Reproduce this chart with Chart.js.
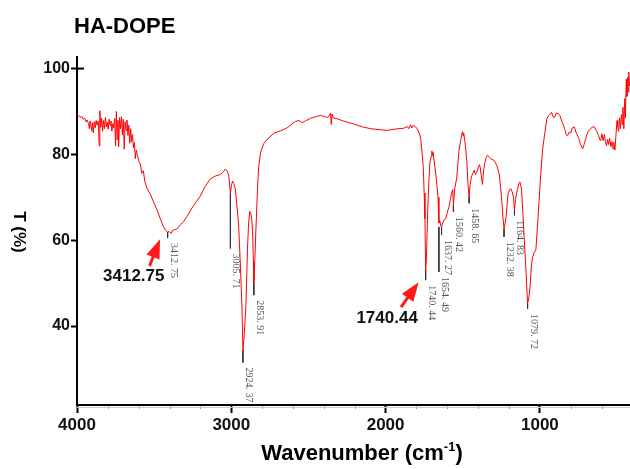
<!DOCTYPE html>
<html>
<head>
<meta charset="utf-8">
<script src="https://cdn.jsdelivr.net/npm/chart.js@4/dist/chart.umd.min.js"></script>
<style>
  body { margin: 0; background: #fff; }
  #wrap { width: 630px; height: 469px; position: relative; }
</style>
</head>
<body>
<div id="wrap"><canvas id="ftir"></canvas></div>
<script>
// FTIR spectrum of HA-DOPE
const wavenumbers = [
  4000, 3990, 3980, 3970, 3960, 3950, 3940, 3935, 3925, 3920, 3915, 3905, 3900, 3895, 3888, 3882, 3876, 3870, 3862, 3856,
  3852, 3846, 3840, 3834, 3828, 3822, 3816, 3810, 3804, 3798, 3792, 3786, 3780, 3774, 3768, 3762, 3756, 3750, 3745, 3740,
  3735, 3730, 3724, 3718, 3712, 3706, 3700, 3694, 3688, 3682, 3676, 3670, 3664, 3658, 3652, 3646, 3640, 3634, 3628, 3622,
  3616, 3610, 3600, 3590, 3580, 3570, 3560, 3545, 3526, 3500, 3481, 3460, 3442, 3425, 3412.75, 3400, 3390, 3380, 3353, 3330,
  3310, 3288, 3250, 3201, 3170, 3136, 3100, 3071, 3050, 3039, 3028, 3017, 3010, 3005.71, 2998, 2991, 2984, 2974, 2962, 2953,
  2942, 2931, 2924.37, 2916, 2905, 2895, 2888, 2880, 2874, 2868, 2862, 2857, 2853.91, 2848, 2840, 2830, 2823, 2810, 2790, 2760,
  2725, 2680, 2638, 2600, 2584, 2560, 2541, 2520, 2487, 2450, 2422, 2395, 2379, 2365, 2357, 2352, 2347, 2340, 2314, 2260,
  2206, 2150, 2097, 2050, 1989, 1940, 1881, 1860, 1850, 1838, 1830, 1820, 1805, 1794, 1780, 1773, 1765, 1756, 1750, 1745,
  1740.44, 1735, 1728, 1720, 1713, 1705, 1700, 1697, 1693, 1688, 1682, 1675, 1668, 1660, 1654.49, 1648, 1642, 1637.27, 1630, 1620,
  1610, 1600, 1589, 1580, 1571, 1565, 1560.42, 1552, 1539, 1530, 1524, 1512, 1502, 1497, 1494, 1487, 1480, 1474, 1466, 1458.65,
  1452, 1444, 1436, 1426, 1418, 1410, 1400, 1392, 1387, 1380, 1372, 1364, 1357, 1348, 1340, 1330, 1318, 1297, 1280, 1264,
  1255, 1247, 1240, 1232.38, 1225, 1219, 1212, 1206, 1196, 1188, 1180, 1171, 1164.83, 1158, 1150, 1145, 1137, 1130, 1124, 1118,
  1110, 1102, 1094, 1087, 1079.72, 1072, 1063, 1055, 1048, 1036, 1026, 1016, 1005, 995, 983, 970, 955, 945, 935, 924,
  915, 905, 895, 881, 870, 855, 840, 828, 820, 810, 800, 790, 777, 765, 750, 738, 723, 712, 700, 690,
  675, 660, 647, 635, 620, 610, 604, 598, 590, 582, 575, 568, 561, 555, 548, 540, 533, 526, 520, 514,
  508, 500, 496, 490, 484, 478, 472, 466, 462, 456, 450, 446, 440, 436, 432, 428, 424, 420, 416
];
const transmittance = [
  89.5, 89.0, 88.6, 88.9, 88.2, 88.4, 87.6, 88.0, 87.2, 86.0, 87.8, 85.5, 87.4, 85.0, 87.6, 86.2, 87.9, 86.8, 87.8, 82.0,
  90.2, 86.3, 88.4, 85.4, 87.9, 86.0, 88.6, 86.4, 87.5, 85.9, 88.2, 86.8, 87.8, 85.4, 87.2, 86.2, 88.4, 82.0, 90.0, 83.5,
  88.0, 81.8, 88.6, 86.0, 88.8, 84.6, 88.2, 81.2, 87.6, 85.6, 88.0, 84.4, 86.8, 82.6, 86.0, 83.0, 84.6, 81.5, 82.8, 79.0,
  81.0, 80.0, 78.5, 77.8, 75.6, 76.2, 73.6, 72.0, 70.8, 68.6, 67.0, 65.0, 63.3, 62.3, 61.9, 62.0, 61.6, 62.3, 62.6, 63.6,
  64.3, 65.5, 67.8, 70.3, 72.5, 74.3, 75.0, 75.3, 76.0, 76.6, 76.2, 75.2, 72.5, 70.9, 73.0, 73.8, 73.2, 72.0, 67.5, 63.8,
  55.0, 44.5, 34.3, 38.0, 45.0, 58.0, 64.0, 66.7, 66.3, 65.0, 62.0, 55.0, 50.0, 55.0, 63.0, 72.0, 77.0, 80.5, 82.5, 83.8,
  84.9, 85.5, 86.2, 87.3, 87.7, 87.9, 87.4, 87.8, 88.4, 88.8, 89.1, 88.8, 88.6, 89.0, 89.6, 87.0, 89.4, 88.5, 88.3, 87.6,
  87.1, 86.4, 86.0, 85.8, 85.6, 85.9, 86.1, 86.5, 86.0, 86.9, 86.2, 86.8, 86.4, 85.9, 84.8, 83.8, 81.0, 77.0, 71.0, 65.0,
  53.0, 56.0, 66.0, 73.5, 78.0, 79.5, 80.8, 79.8, 80.5, 79.2, 77.5, 75.5, 73.0, 70.0, 64.0, 64.5, 63.3, 63.1, 64.0, 64.8,
  65.0, 66.5, 67.8, 69.5, 71.2, 71.8, 68.2, 72.0, 74.5, 78.5, 81.0, 83.5, 85.3, 84.3, 85.0, 83.3, 81.0, 78.6, 73.0, 70.1,
  73.0, 74.7, 75.5, 76.3, 75.3, 75.8, 76.8, 77.6, 77.0, 75.0, 73.0, 76.5, 78.0, 79.3, 79.8, 79.5, 79.0, 78.6, 77.5, 75.5,
  72.5, 69.3, 65.5, 62.7, 64.0, 65.5, 68.5, 70.8, 71.8, 72.0, 71.3, 70.0, 67.0, 69.5, 71.0, 71.8, 73.2, 73.6, 72.8, 71.5,
  66.0, 60.8, 55.5, 50.7, 45.2, 46.5, 49.5, 54.0, 56.0, 57.2, 57.8, 63.0, 69.3, 75.0, 81.0, 84.5, 88.3, 89.0, 89.3, 89.8,
  88.8, 88.6, 89.6, 89.5, 89.0, 87.5, 86.0, 84.5, 84.4, 85.2, 85.0, 86.2, 86.4, 85.0, 84.0, 82.5, 81.3, 82.5, 84.0, 85.2,
  85.8, 86.4, 86.4, 85.6, 84.4, 83.3, 83.6, 84.8, 83.2, 84.6, 83.0, 82.0, 83.5, 82.3, 83.8, 81.8, 83.0, 81.3, 82.8, 81.0,
  84.0, 87.9, 86.5, 85.4, 88.5, 86.0, 89.3, 87.0, 91.0, 86.0, 93.0, 88.5, 97.5, 93.5, 98.0, 94.5, 99.2, 96.0, 97.0
];

// peak markers: position, line from curve (top) down to label start (bottom)
const peakWavenumbers = [3412.75, 3005.71, 2924.37, 2853.91, 1740.44, 1654.49, 1637.27, 1560.42, 1458.65, 1232.38, 1164.83, 1079.72];
const peakTop =        [61.9, 70.9, 34.3, 50.0, 53.0, 63.1, 63.1, 68.2, 70.1, 62.7, 67.0, 45.2];
const peakBottom =     [60.5, 58.1, 31.5, 47.2, 50.7, 52.6, 61.2, 66.6, 68.6, 60.8, 65.8, 44.0];
const peakLabels = ['3412. 75', '3005. 71', '2924. 37', '2853. 91', '1740. 44', '1654. 49',
                    '1637. 27', '1560. 42', '1458. 65', '1232. 38', '1164. 83', '1079. 72'];

// highlighted peaks with red arrows: [tail wn, tail T, tip wn, tip T], text anchor
const calloutLabels = ['3412.75', '1740.44'];
const calloutArrows = [[3530, 54.0, 3462, 60.2], [1900, 44.4, 1786, 50.2]];
const calloutText = [[3632, 50.6], [1990, 40.6]];

const xTicks = [4000, 3000, 2000, 1000];
const yTicks = [100, 80, 60, 40];

const spectrum = wavenumbers.map((w, i) => ({ x: w, y: transmittance[i] }));
const peakSets = peakWavenumbers.map((w, i) => ({
  data: [{ x: w, y: peakTop[i] }, { x: w, y: peakBottom[i] }],
  borderColor: '#333',
  borderWidth: 1,
  pointRadius: 0
}));

function arrow(ctx, x1, y1, x2, y2) {
  const ang = Math.atan2(y2 - y1, x2 - x1);
  const len = 19, half = 7;
  const bx = x2 - Math.cos(ang) * len, by = y2 - Math.sin(ang) * len;
  ctx.strokeStyle = '#ff1a1a';
  ctx.fillStyle = '#ff1a1a';
  ctx.lineWidth = 3;
  ctx.beginPath();
  ctx.moveTo(x1, y1);
  ctx.lineTo(bx + Math.cos(ang) * 2, by + Math.sin(ang) * 2);
  ctx.stroke();
  ctx.beginPath();
  ctx.moveTo(x2, y2);
  ctx.lineTo(bx + Math.sin(ang) * half, by - Math.cos(ang) * half);
  ctx.lineTo(bx - Math.sin(ang) * half, by + Math.cos(ang) * half);
  ctx.closePath();
  ctx.fill();
}

const decor = {
  id: 'decor',
  afterDraw(chart) {
    const ctx = chart.ctx;
    const xs = chart.scales.x, ys = chart.scales.y;
    const area = chart.chartArea;
    ctx.save();

    // minor ticks on x axis
    ctx.strokeStyle = '#999';
    ctx.lineWidth = 1;
    for (let w = 3800; w > xs.min; w -= 200) {
      if (w % 1000 === 0) continue;
      const px = Math.round(xs.getPixelForValue(w)) + 0.5;
      ctx.beginPath();
      ctx.moveTo(px, area.bottom + 1);
      ctx.lineTo(px, area.bottom + 4);
      ctx.stroke();
    }
    ctx.strokeStyle = '#ccc';
    ctx.beginPath();
    ctx.moveTo(area.left, area.bottom + 2.5);
    ctx.lineTo(area.right, area.bottom + 2.5);
    ctx.stroke();

    // the 100 tick crosses the axis
    ctx.strokeStyle = '#000';
    ctx.lineWidth = 2;
    const p100 = ys.getPixelForValue(yTicks[0]);
    ctx.beginPath();
    ctx.moveTo(area.left, p100);
    ctx.lineTo(area.left + 7, p100);
    ctx.stroke();

    // small peak labels, rotated
    ctx.fillStyle = '#555';
    ctx.font = '10px "Liberation Serif", serif';
    ctx.textAlign = 'left';
    ctx.textBaseline = 'alphabetic';
    peakWavenumbers.forEach((w, i) => {
      const px = xs.getPixelForValue(w);
      const py = ys.getPixelForValue(peakBottom[i]);
      ctx.save();
      ctx.translate(px + 3, py + 5);
      ctx.rotate(Math.PI / 2);
      ctx.fillText(peakLabels[i], 0, 0);
      ctx.restore();
    });

    // red arrows with bold values
    calloutLabels.forEach((t, i) => {
      const a = calloutArrows[i];
      arrow(ctx, xs.getPixelForValue(a[0]), ys.getPixelForValue(a[1]),
        xs.getPixelForValue(a[2]), ys.getPixelForValue(a[3]));
      ctx.fillStyle = '#111';
      ctx.font = 'bold 17px "Liberation Sans", Arial, sans-serif';
      ctx.textAlign = 'center';
      ctx.fillText(t, xs.getPixelForValue(calloutText[i][0]), ys.getPixelForValue(calloutText[i][1]));
    });

    // title
    ctx.fillStyle = '#000';
    ctx.textAlign = 'left';
    ctx.font = 'bold 22px "Liberation Sans", Arial, sans-serif';
    ctx.fillText('HA-DOPE', 74, 33);

    // y axis title, rotated clockwise
    ctx.save();
    ctx.translate(14, 232);
    ctx.rotate(Math.PI / 2);
    ctx.textAlign = 'center';
    ctx.font = 'bold 17px "Liberation Sans", Arial, sans-serif';
    ctx.fillText('T (%)', 0, 0);
    ctx.restore();

    // x axis title with superscript
    const big = 'bold 22px "Liberation Sans", Arial, sans-serif';
    const small = 'bold 13px "Liberation Sans", Arial, sans-serif';
    ctx.font = big;
    const w1 = ctx.measureText('Wavenumber (cm').width;
    const w3 = ctx.measureText(')').width;
    ctx.font = small;
    const w2 = ctx.measureText('-1').width;
    let x0 = 362 - (w1 + w2 + w3) / 2;
    const base = 460;
    ctx.font = big;
    ctx.fillText('Wavenumber (cm', x0, base);
    ctx.font = small;
    ctx.fillText('-1', x0 + w1, base - 9);
    ctx.font = big;
    ctx.fillText(')', x0 + w1 + w2, base);

    ctx.restore();
  }
};

new Chart(document.getElementById('ftir'), {
  type: 'line',
  data: {
    datasets: [{
      data: spectrum,
      borderColor: '#ff0000',
      borderWidth: 1,
      pointRadius: 0,
      tension: 0
    }, ...peakSets]
  },
  options: {
    responsive: true,
    maintainAspectRatio: false,
    animation: false,
    layout: { padding: { top: 57, left: 0, right: 0, bottom: 0 } },
    plugins: { legend: { display: false }, tooltip: { enabled: false } },
    scales: {
      x: {
        type: 'linear',
        reverse: true,
        min: 416,
        max: 4000,
        afterBuildTicks: s => { s.ticks = xTicks.map(v => ({ value: v })); },
        afterFit: s => { s.height = 64; },
        border: { color: '#000', width: 2 },
        grid: { drawOnChartArea: false, tickLength: 8, tickWidth: 2, tickColor: '#000' },
        ticks: {
          padding: 2,
          color: '#111',
          font: { family: '"Liberation Sans", Arial, sans-serif', size: 17, weight: 'bold' },
          maxRotation: 0,
          callback: v => String(v)
        }
      },
      y: {
        min: 21.6,
        max: 102.7,
        afterBuildTicks: s => { s.ticks = yTicks.map(v => ({ value: v })); },
        afterFit: s => { s.width = 77; },
        border: { color: '#000', width: 2 },
        grid: { drawOnChartArea: false, tickLength: 6, tickWidth: 2, tickColor: '#000' },
        ticks: {
          padding: 1,
          color: '#111',
          font: { family: '"Liberation Sans", Arial, sans-serif', size: 16, weight: 'bold' },
          callback: v => String(v)
        }
      }
    }
  },
  plugins: [decor]
});
</script>
</body>
</html>
